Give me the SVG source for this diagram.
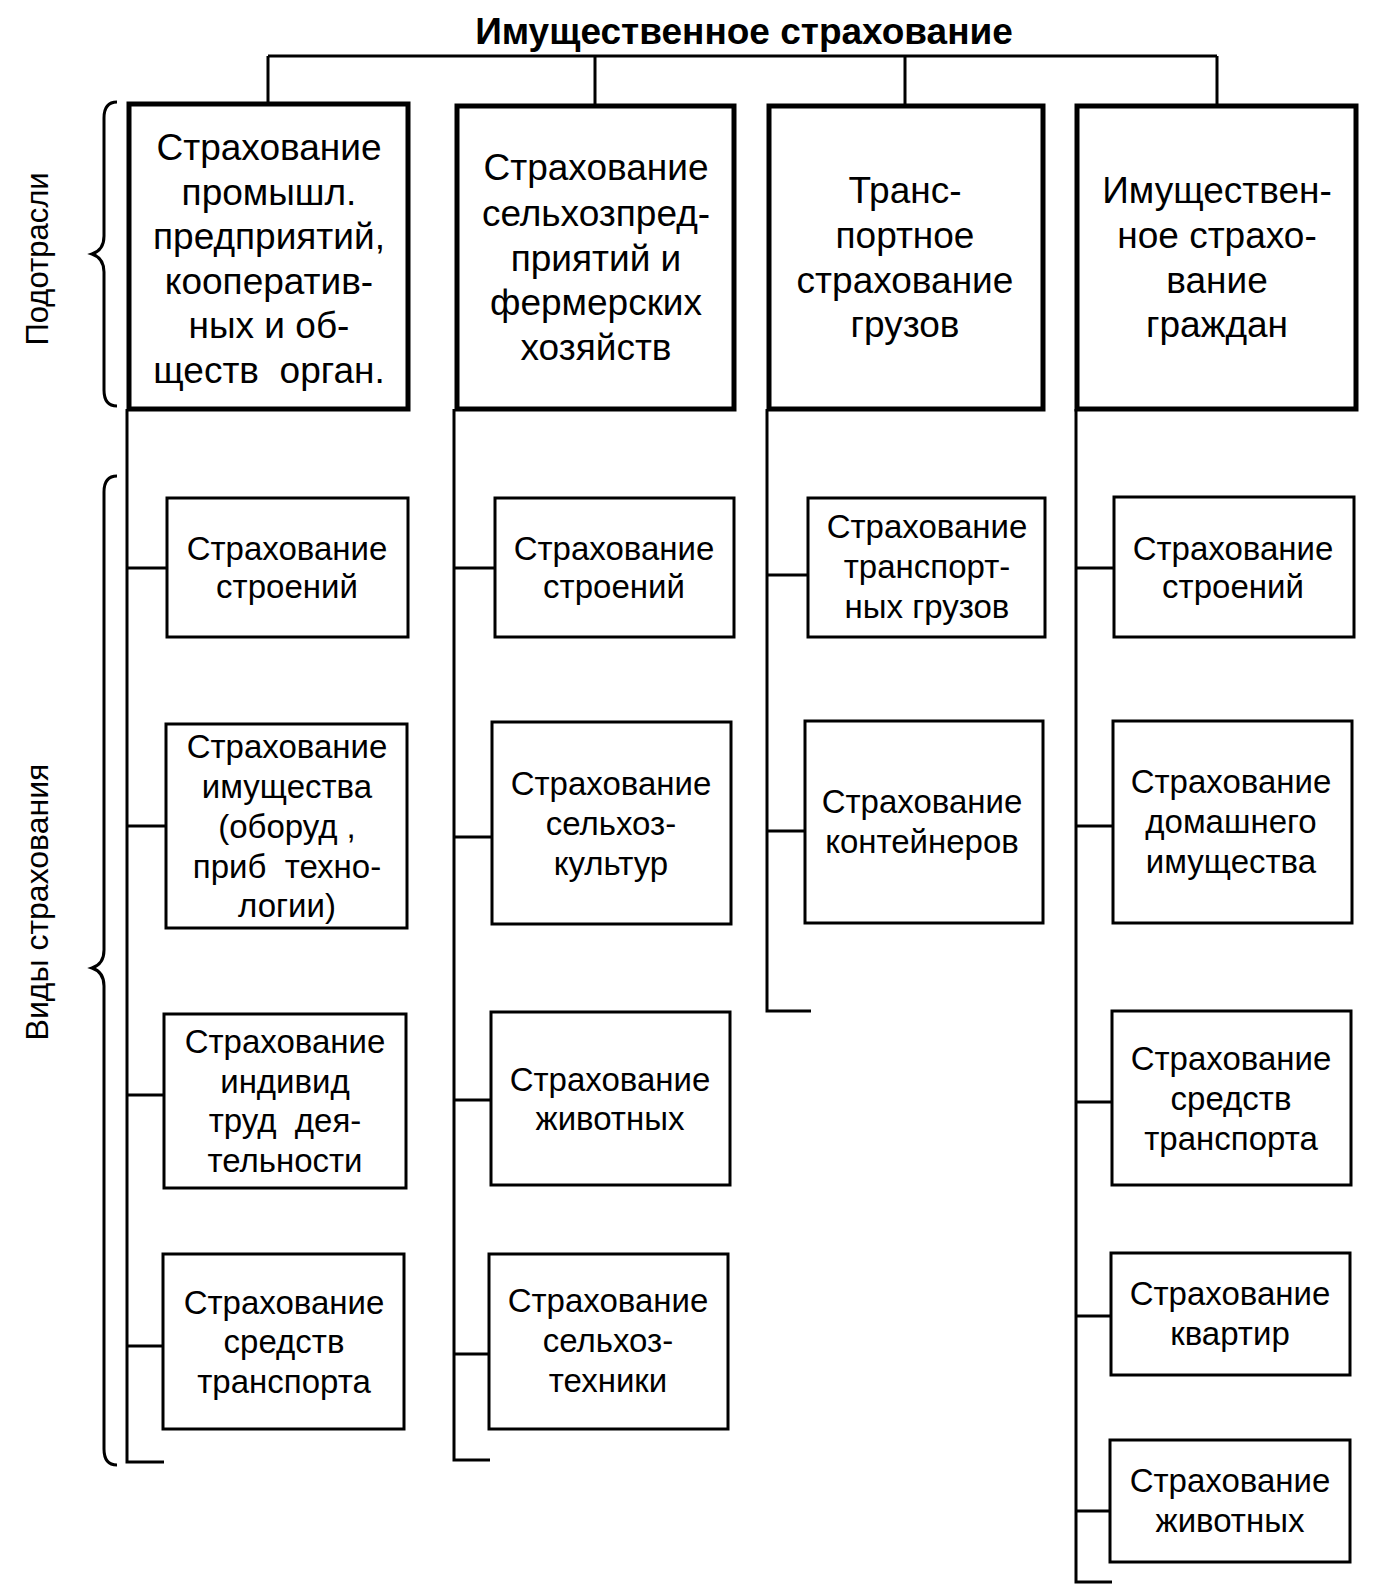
<svg xmlns="http://www.w3.org/2000/svg" width="1373" height="1590" viewBox="0 0 1373 1590">
<style>
text{font-family:"Liberation Sans",Arial,sans-serif;fill:#000;text-anchor:middle}
.t{font-size:37px;font-weight:bold}
.big{font-size:37px}
.sm{font-size:33px}
.side{font-size:31px}
.side2{font-size:32px}
.bb{fill:#fff;stroke:#000;stroke-width:5}
.sb{fill:#fff;stroke:#000;stroke-width:3}
.ln{fill:none;stroke:#000;stroke-width:3}
</style>
<rect width="1373" height="1590" fill="#fff"/>
<g id="title"><text class="t" x="744" y="44">Имущественное страхование</text></g>
<g id="connectors" class="ln">
<path class="ln" d="M268 56H1217M268 56V104M595 56V106M905 56V106M1217 56V106"/>
<path class="ln" d="M127 409V1462H164M127 568H167M127 826H166M127 1095H164M127 1346H163"/>
<path class="ln" d="M454 409V1460H490M454 568H495M454 837H492M454 1100H491M454 1354H489"/>
<path class="ln" d="M767 409V1011H811M767 575H808M767 831H805"/>
<path class="ln" d="M1076 409V1582H1112M1076 568H1114M1076 826H1113M1076 1102H1112M1076 1316H1111M1076 1511H1110"/>
</g>
<g id="braces" class="ln">
<path class="ln" d="M117 102Q104 102 104 118V236Q104 250 92 254Q104 258 104 272V390Q104 406 117 406"/>
<path class="ln" d="M117 476Q104 476 104 492V950Q104 964 92 968Q104 972 104 986V1449Q104 1465 117 1465"/>
</g>
<g id="label-podotrasli"><text class="side" transform="translate(48 259) rotate(-90)">Подотрасли</text></g>
<g id="label-vidy"><text class="side2" transform="translate(48 902) rotate(-90)">Виды страхования</text></g>

<g id="n1"><rect class="bb" x="129" y="104" width="279" height="305"/>
<text class="big" xml:space="preserve"><tspan x="269" y="160">Страхование</tspan><tspan x="269" y="205">промышл.</tspan><tspan x="269" y="249">предприятий,</tspan><tspan x="269" y="294">кооператив-</tspan><tspan x="269" y="338">ных и об-</tspan><tspan x="269" y="383">ществ  орган.</tspan></text></g>
<g id="n2"><rect class="bb" x="457" y="106" width="277" height="303"/>
<text class="big"><tspan x="596" y="180">Страхование</tspan><tspan x="596" y="226">сельхозпред-</tspan><tspan x="596" y="271">приятий и</tspan><tspan x="596" y="315">фермерских</tspan><tspan x="596" y="360">хозяйств</tspan></text></g>
<g id="n3"><rect class="bb" x="769" y="106" width="274" height="303"/>
<text class="big"><tspan x="905" y="203">Транс-</tspan><tspan x="905" y="248">портное</tspan><tspan x="905" y="293">страхование</tspan><tspan x="905" y="337">грузов</tspan></text></g>
<g id="n4"><rect class="bb" x="1077" y="106" width="279" height="303"/>
<text class="big"><tspan x="1217" y="203">Имуществен-</tspan><tspan x="1217" y="248">ное страхо-</tspan><tspan x="1217" y="293">вание</tspan><tspan x="1217" y="337">граждан</tspan></text></g>

<g id="n1-1"><rect class="sb" x="167" y="498" width="241" height="139"/>
<text class="sm"><tspan x="287" y="560">Страхование</tspan><tspan x="287" y="598">строений</tspan></text></g>
<g id="n1-2"><rect class="sb" x="166" y="724" width="241" height="204"/>
<text class="sm" xml:space="preserve"><tspan x="287" y="758">Страхование</tspan><tspan x="287" y="798">имущества</tspan><tspan x="287" y="838">(оборуд ,</tspan><tspan x="287" y="878">приб  техно-</tspan><tspan x="287" y="917">логии)</tspan></text></g>
<g id="n1-3"><rect class="sb" x="164" y="1014" width="242" height="174"/>
<text class="sm" xml:space="preserve"><tspan x="285" y="1053">Страхование</tspan><tspan x="285" y="1093">индивид</tspan><tspan x="285" y="1132">труд  дея-</tspan><tspan x="285" y="1172">тельности</tspan></text></g>
<g id="n1-4"><rect class="sb" x="163" y="1254" width="241" height="175"/>
<text class="sm"><tspan x="284" y="1314">Страхование</tspan><tspan x="284" y="1353">средств</tspan><tspan x="284" y="1393">транспорта</tspan></text></g>

<g id="n2-1"><rect class="sb" x="495" y="498" width="239" height="139"/>
<text class="sm"><tspan x="614" y="560">Страхование</tspan><tspan x="614" y="598">строений</tspan></text></g>
<g id="n2-2"><rect class="sb" x="492" y="722" width="239" height="202"/>
<text class="sm"><tspan x="611" y="795">Страхование</tspan><tspan x="611" y="835">сельхоз-</tspan><tspan x="611" y="875">культур</tspan></text></g>
<g id="n2-3"><rect class="sb" x="491" y="1012" width="239" height="173"/>
<text class="sm"><tspan x="610" y="1091">Страхование</tspan><tspan x="610" y="1130">животных</tspan></text></g>
<g id="n2-4"><rect class="sb" x="489" y="1254" width="239" height="175"/>
<text class="sm"><tspan x="608" y="1312">Страхование</tspan><tspan x="608" y="1352">сельхоз-</tspan><tspan x="608" y="1392">техники</tspan></text></g>

<g id="n3-1"><rect class="sb" x="808" y="498" width="237" height="139"/>
<text class="sm"><tspan x="927" y="538">Страхование</tspan><tspan x="927" y="578">транспорт-</tspan><tspan x="927" y="618">ных грузов</tspan></text></g>
<g id="n3-2"><rect class="sb" x="805" y="721" width="238" height="202"/>
<text class="sm"><tspan x="922" y="813">Страхование</tspan><tspan x="922" y="853">контейнеров</tspan></text></g>

<g id="n4-1"><rect class="sb" x="1114" y="497" width="240" height="140"/>
<text class="sm"><tspan x="1233" y="560">Страхование</tspan><tspan x="1233" y="598">строений</tspan></text></g>
<g id="n4-2"><rect class="sb" x="1113" y="721" width="239" height="202"/>
<text class="sm"><tspan x="1231" y="793">Страхование</tspan><tspan x="1231" y="833">домашнего</tspan><tspan x="1231" y="873">имущества</tspan></text></g>
<g id="n4-3"><rect class="sb" x="1112" y="1011" width="239" height="174"/>
<text class="sm"><tspan x="1231" y="1070">Страхование</tspan><tspan x="1231" y="1110">средств</tspan><tspan x="1231" y="1150">транспорта</tspan></text></g>
<g id="n4-4"><rect class="sb" x="1111" y="1253" width="239" height="122"/>
<text class="sm"><tspan x="1230" y="1305">Страхование</tspan><tspan x="1230" y="1345">квартир</tspan></text></g>
<g id="n4-5"><rect class="sb" x="1110" y="1440" width="240" height="122"/>
<text class="sm"><tspan x="1230" y="1492">Страхование</tspan><tspan x="1230" y="1532">животных</tspan></text></g>
</svg>
